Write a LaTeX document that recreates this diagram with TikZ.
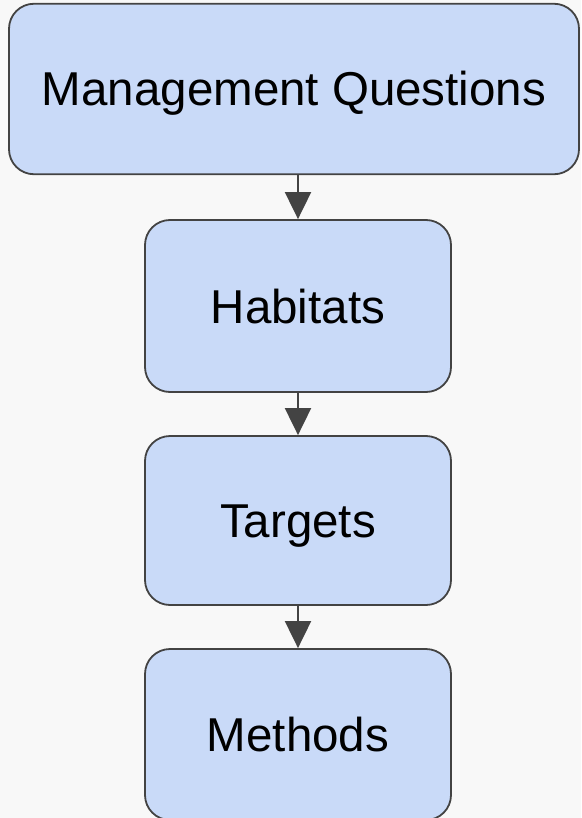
\documentclass[tikz,border=0pt]{standalone}
\usepackage{fontspec}
\setmainfont{Liberation Sans}
\usetikzlibrary{arrows.meta}
\definecolor{bg}{HTML}{F8F8F8}
\definecolor{boxfill}{HTML}{C9DAF8}
\definecolor{edge}{HTML}{434343}
\begin{document}
\begin{tikzpicture}[x=1pt,y=-1pt,
  stage/.style={draw=edge,line width=1.8pt,fill=boxfill,rounded corners=25pt,
    inner sep=0pt,font=\fontsize{47.5}{57}\selectfont,text height=34pt,text depth=-2pt},
  flow/.style={draw=edge,line width=2pt,-{Triangle[width=26pt,length=27pt]}}]
\fill[bg] (0,0) rectangle (581,818);
\useasboundingbox (0,0) rectangle (581,818);
\node[stage,minimum width=570pt,minimum height=170.5pt] (mq) at (294,89) {Management Questions};
\node[stage,minimum width=306pt,minimum height=172pt] (hab) at (298,306) {Habitats};
\node[stage,minimum width=306pt,minimum height=169pt] (tar) at (298,520.5) {Targets};
\node[stage,minimum width=306pt,minimum height=171pt] (met) at (298,734.5) {Methods};
\draw[flow] (mq.south -| hab.north) -- (hab.north);
\draw[flow] (hab.south) -- (tar.north);
\draw[flow] (tar.south) -- (met.north);
\end{tikzpicture}
\end{document}
